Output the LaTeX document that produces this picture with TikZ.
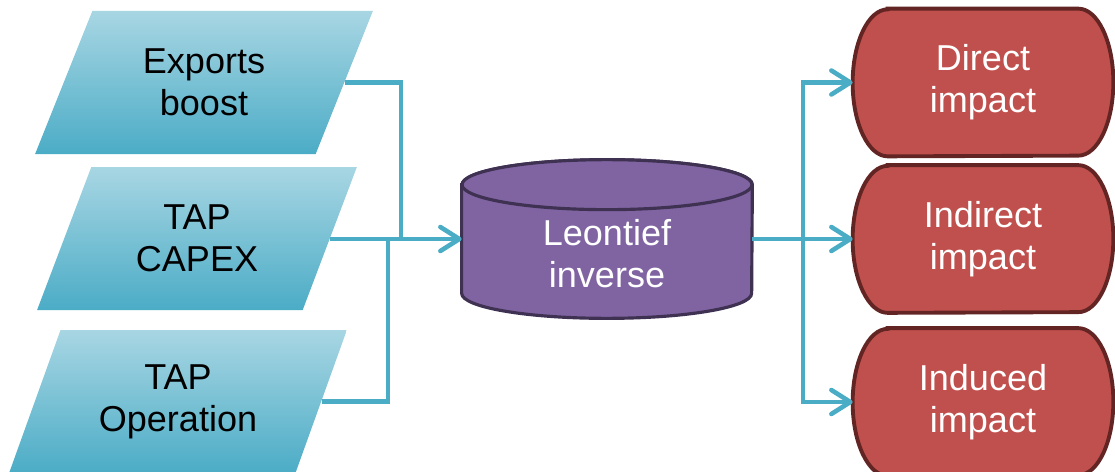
\documentclass[tikz,border=0pt]{standalone}
\usepackage{fontspec}
\setmainfont{Liberation Sans}
\usepackage{xcolor}
\usepackage{tikz}
\usetikzlibrary{arrows.meta, shapes.geometric, positioning, backgrounds}
\definecolor{acblue}{HTML}{4BACC6}
\definecolor{paratop}{HTML}{A8D6E3}
\definecolor{drumfill}{HTML}{8064A2}
\definecolor{drumline}{HTML}{3F3151}
\definecolor{outfill}{HTML}{C0504D}
\definecolor{outline}{HTML}{632523}
\newcommand{\boxfont}{\fontsize{20.5}{23.9}\selectfont}
\tikzset{
  para/.style={trapezium, trapezium left angle=65, trapezium right angle=115,
               trapezium stretches=true, top color=paratop, bottom color=acblue,
               minimum width=6.76cm, minimum height=2.86cm, inner sep=0pt,
               align=center, font=\boxfont},
  drumbox/.style={minimum width=5.8cm, minimum height=3.16cm, inner sep=0pt},
  drum/.style={draw=drumline, fill=drumfill, line width=1.8pt},
  drumtxt/.style={align=center, font=\boxfont, text=white},
  outc/.style={minimum width=5.2cm, minimum height=2.94cm, inner sep=0pt,
               align=center, font=\boxfont, text=white},
  outshape/.style={draw=outline, fill=outfill, line width=2.2pt},
  link/.style={draw=acblue, line width=2.6pt},
  feed/.style={link, -{Straight Barb[length=3.8mm, width=4.8mm, round]}}
}
\begin{document}
\begin{tikzpicture}
  \useasboundingbox (0,0) rectangle (22.3,-9.44);
  \node[para] (exp) at (4.08,-1.65) {Exports\\boost};
  \node[para, minimum width=6.4cm] (cap) at (3.94,-4.77) {TAP\\CAPEX};
  \node[para] (ops) at (3.56,-8.03) {TAP\\Operation};
  \node[drumbox] (leo) at (12.14,-4.78) {};
  \node[drumtxt] (leotxt) at ([yshift=-0.3cm]leo.center) {Leontief\\inverse};
  \node[outc] (dir) at (19.66,-1.65) {Direct\\impact};
  \node[outc] (ind) at (19.66,-4.78) {Indirect\\impact};
  \node[outc] (idc) at (19.66,-8.04) {Induced\\impact};
  \begin{scope}[on background layer]
    \draw[drum] ([yshift=-5mm]leo.north west) -- ([yshift=5mm]leo.south west)
      arc[start angle=180, end angle=360, x radius=2.9cm, y radius=5mm]
      -- ([yshift=-5mm]leo.north east)
      arc[start angle=0, end angle=180, x radius=2.9cm, y radius=5mm] -- cycle;
    \draw[drum] ([yshift=-5mm]leo.north) ellipse[x radius=2.9cm, y radius=5mm];
    \foreach \n in {dir,ind,idc}
      \draw[outshape] ([xshift=7mm]\n.north west) -- ([xshift=-7mm]\n.north east)
        arc[start angle=90, end angle=-90, x radius=7mm, y radius=14.7mm]
        -- ([xshift=7mm]\n.south west)
        arc[start angle=270, end angle=90, x radius=7mm, y radius=14.7mm] -- cycle;
  \end{scope}
  \coordinate (jl) at (8.02,-4.78);
  \coordinate (jb) at (7.76,-4.78);
  \coordinate (jr) at (16.06,-4.78);
  \draw[link] (exp.east) -| (jl);
  \draw[link] (ops.east) -| (jb);
  \draw[feed] (cap.east |- leo.west) -- (leo.west);
  \draw[link] (leo.east) -- (jr);
  \draw[feed] (jr) |- (dir.west);
  \draw[feed] (jr) -- (ind.west);
  \draw[feed] (jr) |- (idc.west);
\end{tikzpicture}
\end{document}
